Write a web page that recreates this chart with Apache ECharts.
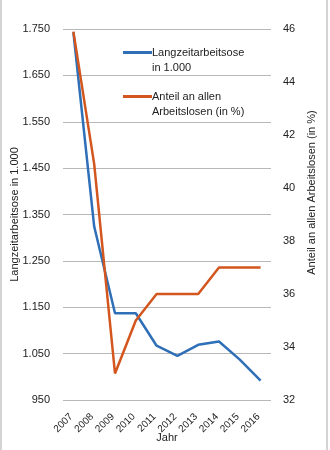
<!DOCTYPE html>
<html><head><meta charset="utf-8">
<script src="https://cdn.jsdelivr.net/npm/echarts@6/dist/echarts.min.js"></script>
<style>html,body{margin:0;padding:0;background:#fff}#wrap{position:relative;width:330px;height:450px}#c{width:330px;height:450px}
.b{position:absolute;top:0;width:2px;height:450px;background:#d4d4d4}</style>
</head><body><div id="wrap"><div id="c"></div><div class="b" style="left:0"></div><div class="b" style="left:326px"></div></div>
<script>
const years = ['2007','2008','2009','2010','2011','2012','2013','2014','2015','2016'];
const longTerm = [1743, 1324, 1137, 1137, 1067, 1045, 1069, 1076, 1037, 992];
const share = [45.9, 40.9, 33.0, 35.0, 36.0, 36.0, 36.0, 37.0, 37.0, 37.0];
const leftTicks = [950, 1750, 100];
const rightTicks = [32, 46, 2];
const nameLeft = 'Langzeitarbeitsose\nin 1.000';
const nameRight = 'Anteil an allen\nArbeitslosen (in %)';

const chart = echarts.init(document.getElementById('c'));
const font = 'Liberation Sans, Arial, sans-serif';
chart.setOption({
  animation: false,
  textStyle: {fontFamily: font},
  grid: {left: 63, right: 59, top: 29, bottom: 50, containLabel: false, outerBoundsMode: 'none'},
  legend: {
    orient: 'vertical', left: 118, top: 25, itemGap: -1,
    itemWidth: 29, itemHeight: 3, icon: 'rect',
    formatter: n => '\n' + n,
    textStyle: {fontSize: 11, color: '#222', lineHeight: 15, padding: [0, 0, 0, -5], fontFamily: font},
    data: [nameLeft, nameRight]
  },
  xAxis: {
    type: 'category', data: years, boundaryGap: true,
    name: 'Jahr', nameLocation: 'middle', nameGap: 32, nameMoveOverlap: false,
    nameTextStyle: {fontSize: 11, color: '#222'},
    axisLine: {show: false}, axisTick: {show: false},
    axisLabel: {rotate: 45, fontSize: 10, color: '#222', margin: 13, padding: [0, 3, 0, 0], interval: 0}
  },
  yAxis: [{
    type: 'value', min: leftTicks[0], max: leftTicks[1], interval: leftTicks[2],
    name: 'Langzeitarbeitsose in 1.000', nameLocation: 'middle', nameGap: 43, nameRotate: 90, nameMoveOverlap: false,
    nameTextStyle: {fontSize: 11, color: '#222'},
    axisLine: {show: false}, axisTick: {show: false},
    axisLabel: {fontSize: 11, color: '#222', margin: 13,
      formatter: v => v >= 1000 ? Math.floor(v/1000) + '.' + String(v%1000).padStart(3,'0') : String(v)},
    splitLine: {lineStyle: {color: '#b8b8b8', width: 1}}
  }, {
    type: 'value', min: rightTicks[0], max: rightTicks[1], interval: rightTicks[2],
    name: 'Anteil an allen Arbeitslosen (in %)', nameLocation: 'middle', nameGap: 35, nameRotate: 90, nameMoveOverlap: false,
    nameTextStyle: {fontSize: 11, color: '#222', padding: [0, 0, 0, 44]},
    axisLine: {show: false}, axisTick: {show: false},
    axisLabel: {fontSize: 11, color: '#222', margin: 12},
    splitLine: {show: false}
  }],
  series: [{
    name: nameLeft, type: 'line', data: longTerm, yAxisIndex: 0,
    symbol: 'none', lineStyle: {color: '#2E6FB7', width: 2.5}, itemStyle: {color: '#2E6FB7'}
  }, {
    name: nameRight, type: 'line', data: share, yAxisIndex: 1,
    symbol: 'none', lineStyle: {color: '#D2561E', width: 2.5}, itemStyle: {color: '#D2561E'}
  }]
});
</script></body></html>
